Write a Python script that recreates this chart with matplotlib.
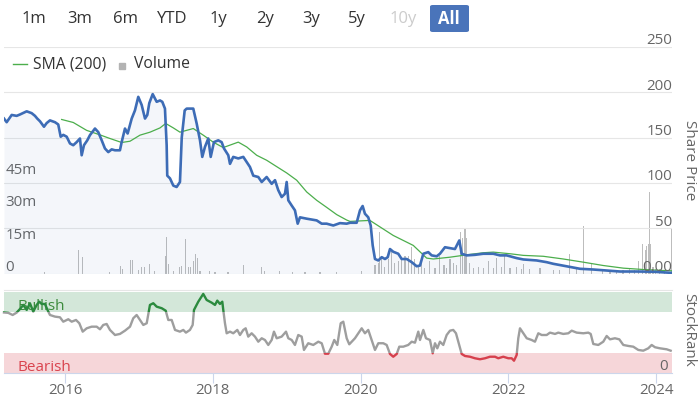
import matplotlib
matplotlib.use('Agg')
import matplotlib.pyplot as plt
from matplotlib.patches import Rectangle, FancyBboxPatch
from matplotlib.lines import Line2D
import matplotlib.transforms as mtransforms

plt.rcParams['font.family'] = ['Open Sans', 'DejaVu Sans']

# ---------------- data (x in decimal years) ----------------
price_points = [
    (2015.175, 171), (2015.211, 167), (2015.279, 175), (2015.346, 174), (2015.391, 175.5),
    (2015.482, 179), (2015.549, 177), (2015.594, 174), (2015.625, 171), (2015.662, 168),
    (2015.716, 162), (2015.752, 166), (2015.797, 169), (2015.865, 167), (2015.909, 164.5),
    (2015.942, 151), (2015.977, 153), (2016.023, 151), (2016.068, 143.5), (2016.112, 141.6),
    (2016.158, 145), (2016.203, 149), (2016.226, 130.5), (2016.257, 141.6), (2016.302, 147),
    (2016.338, 152.7), (2016.406, 160), (2016.451, 156), (2016.497, 147), (2016.541, 138),
    (2016.586, 134), (2016.632, 137), (2016.677, 136), (2016.744, 136), (2016.767, 145),
    (2016.812, 160), (2016.848, 154.5), (2016.903, 171), (2016.947, 180), (2016.992, 195),
    (2017.038, 186), (2017.083, 171), (2017.114, 175), (2017.141, 188), (2017.187, 198),
    (2017.241, 189.5), (2017.286, 191), (2017.317, 189.5), (2017.353, 182), (2017.376, 141.6),
    (2017.384, 108), (2017.421, 105), (2017.466, 97), (2017.511, 95.5), (2017.556, 101),
    (2017.580, 150), (2017.620, 180), (2017.647, 182), (2017.736, 182), (2017.782, 165.6),
    (2017.827, 147), (2017.858, 128.7), (2017.894, 139.7), (2017.939, 149), (2017.972, 128.7),
    (2018.016, 145), (2018.074, 147), (2018.120, 145), (2018.152, 138), (2018.210, 130.5),
    (2018.233, 121), (2018.277, 128.7), (2018.345, 127), (2018.413, 128.7), (2018.459, 123),
    (2018.503, 117.6), (2018.548, 108), (2018.616, 106.5), (2018.662, 101), (2018.729, 106.5),
    (2018.797, 99), (2018.842, 103), (2018.886, 92), (2018.932, 84.4), (2018.977, 88),
    (2019.000, 101), (2019.022, 80.8), (2019.068, 75), (2019.112, 69.7), (2019.149, 55),
    (2019.180, 62), (2019.271, 60.5), (2019.406, 58.6), (2019.474, 55), (2019.541, 55),
    (2019.631, 53), (2019.721, 55.6), (2019.812, 55), (2019.857, 56), (2019.947, 56),
    (2019.992, 69.7), (2020.028, 74.5), (2020.059, 66), (2020.104, 62), (2020.137, 53),
    (2020.164, 31), (2020.195, 16), (2020.240, 14.4), (2020.286, 18), (2020.330, 16),
    (2020.367, 18), (2020.398, 27), (2020.442, 24), (2020.510, 21.8), (2020.556, 16),
    (2020.624, 16), (2020.692, 12.5), (2020.759, 8), (2020.804, 8.8), (2020.849, 21.8),
    (2020.916, 23.6), (2020.962, 20), (2021.030, 19), (2021.074, 21.8), (2021.142, 29),
    (2021.210, 28), (2021.277, 27), (2021.336, 36.5), (2021.368, 21.8), (2021.436, 20),
    (2021.548, 20.6), (2021.660, 21.8), (2021.796, 21.8), (2021.886, 20), (2021.977, 20),
    (2022.112, 17), (2022.202, 15.5), (2022.383, 14.4), (2022.518, 12.5), (2022.608, 10.7),
    (2022.789, 8), (2022.969, 5.2), (2023.149, 4.4), (2023.330, 3.3), (2023.510, 2.2),
    (2023.736, 2.2), (2023.961, 2), (2024.187, 0.8), (2024.214, 0.8),
]

sma_points = [
    (2015.955, 170), (2016.112, 166.7), (2016.293, 158), (2016.474, 153), (2016.609, 149),
    (2016.767, 144.6), (2016.880, 146), (2017.015, 152.7), (2017.151, 156), (2017.286, 160.7),
    (2017.363, 165.6), (2017.466, 160.7), (2017.556, 156), (2017.736, 160), (2017.871, 152.7),
    (2018.006, 145), (2018.141, 139), (2018.345, 145), (2018.459, 139.7), (2018.594, 130.5),
    (2018.729, 125), (2018.864, 118), (2019.000, 111), (2019.135, 103), (2019.271, 90),
    (2019.406, 80.8), (2019.541, 73), (2019.677, 65), (2019.812, 59), (2019.857, 57.5),
    (2020.126, 58.6), (2020.442, 42), (2020.713, 31), (2020.894, 17), (2020.984, 16),
    (2021.210, 18), (2021.436, 20.6), (2021.660, 22.9), (2021.796, 23.6), (2022.022, 21.8),
    (2022.202, 20), (2022.473, 19), (2022.744, 16), (2023.014, 12.5), (2023.285, 8.8),
    (2023.556, 5.9), (2023.826, 4.4), (2024.097, 3.3), (2024.214, 3),
]

# volume in millions
volume_points = [
    (2015.729, 0.5), (2016.180, 10.7), (2016.240, 7.7), (2016.599, 0.6), (2016.754, 3.6),
    (2016.781, 2.2), (2016.889, 6.3), (2016.916, 6.3), (2016.992, 1.7), (2017.038, 2.8),
    (2017.073, 2.8), (2017.141, 4.5), (2017.208, 1.2), (2017.363, 7.9), (2017.376, 16.8),
    (2017.407, 4.5), (2017.466, 1.0), (2017.556, 3.2), (2017.583, 3.6), (2017.637, 16.2),
    (2017.668, 3.2), (2017.701, 3.2), (2017.736, 5.6), (2017.769, 9.1), (2017.790, 7.1),
    (2017.827, 1.0), (2017.962, 1.0), (2018.030, 0.7), (2018.206, 0.8), (2018.413, 4.0),
    (2018.662, 2.8), (2018.706, 1.0), (2018.909, 1.0), (2019.085, 0.7), (2019.248, 0.5),
    (2019.451, 0.8), (2019.677, 0.8), (2020.015, 1.0),
    (2020.195, 4.0), (2020.240, 5.0), (2020.253, 19.3), (2020.286, 7.3), (2020.321, 3.0),
    (2020.375, 6.5), (2020.421, 10.2), (2020.465, 5.0), (2020.510, 5.7), (2020.556, 7.3),
    (2020.601, 8.0), (2020.646, 8.0), (2020.692, 12.2), (2020.736, 6.5), (2020.781, 3.0),
    (2020.827, 5.0), (2020.871, 2.5), (2020.939, 5.7), (2021.007, 2.5), (2021.074, 8.0),
    (2021.129, 4.0), (2021.165, 2.5), (2021.210, 6.5), (2021.254, 5.0), (2021.300, 4.0),
    (2021.354, 19.3), (2021.376, 16.6), (2021.413, 20.9), (2021.436, 16.6), (2021.471, 5.0),
    (2021.525, 2.5), (2021.593, 3.0), (2021.660, 2.5), (2021.728, 5.7), (2021.796, 2.5),
    (2021.842, 7.3), (2021.909, 3.0), (2021.954, 8.0), (2022.022, 2.5), (2022.112, 3.0),
    (2022.180, 2.0), (2022.202, 4.3), (2022.292, 2.0), (2022.428, 2.5), (2022.604, 1.5),
    (2022.698, 1.5), (2022.824, 9.0), (2022.924, 2.0), (2023.014, 21.8), (2023.127, 5.0),
    (2023.280, 2.0), (2023.375, 1.5), (2023.465, 1.5), (2023.551, 1.5), (2023.645, 2.0),
    (2023.713, 1.5), (2023.758, 5.9), (2023.817, 13.6), (2023.849, 10.8), (2023.871, 12.7),
    (2023.893, 13.6), (2023.906, 37.6), (2023.925, 13.9), (2023.957, 3.0), (2023.997, 2.0),
    (2024.051, 2.0), (2024.119, 1.5), (2024.209, 20.4),
]

rank_points = [
    (2015.175, 74.5), (2015.233, 74), (2015.292, 71.4), (2015.346, 74.3), (2015.401, 79.7),
    (2015.436, 83.7), (2015.482, 77.6), (2015.526, 85.8), (2015.571, 75.5), (2015.617, 83.7),
    (2015.652, 87.7), (2015.685, 84.9), (2015.729, 84.9), (2015.760, 78.4), (2015.797, 71.4),
    (2015.865, 69.4), (2015.932, 68.6), (2015.977, 63.2), (2016.045, 66.2), (2016.091, 63.2),
    (2016.149, 65.3), (2016.194, 61.3), (2016.240, 51), (2016.294, 55.1), (2016.361, 57.1),
    (2016.429, 57.1), (2016.474, 53.9), (2016.518, 59.2), (2016.564, 60.4), (2016.609, 53.1),
    (2016.677, 46.9), (2016.744, 48.2), (2016.812, 52.2), (2016.880, 57.1), (2016.924, 67.4),
    (2016.970, 71.4), (2017.015, 65.3), (2017.060, 59.2), (2017.106, 61.3), (2017.150, 83.7),
    (2017.195, 85.8), (2017.241, 81.6), (2017.309, 79.7), (2017.363, 76.7), (2017.398, 65.3),
    (2017.444, 65.3), (2017.489, 53.1), (2017.556, 51), (2017.601, 53.1), (2017.637, 49.8),
    (2017.691, 53.1), (2017.728, 59.2), (2017.746, 77.6), (2017.804, 87.7), (2017.871, 97.2),
    (2017.917, 89.8), (2017.985, 86.5), (2018.030, 83.7), (2018.061, 89), (2018.097, 84.9),
    (2018.129, 87.7), (2018.142, 77.6), (2018.165, 61.3), (2018.188, 49), (2018.233, 51),
    (2018.277, 49), (2018.332, 53.1), (2018.368, 46.9), (2018.413, 53.1), (2018.445, 55.1),
    (2018.480, 44.9), (2018.526, 49), (2018.571, 44.9), (2018.616, 38.7), (2018.662, 42.9),
    (2018.706, 40.8), (2018.751, 34.7), (2018.797, 40.8), (2018.828, 51), (2018.865, 42.9),
    (2018.932, 44.9), (2018.991, 51), (2019.022, 42.9), (2019.068, 40.8), (2019.112, 34.7),
    (2019.157, 46.9), (2019.203, 44.9), (2019.234, 28.6), (2019.292, 36.8), (2019.360, 34.7),
    (2019.428, 38.7), (2019.474, 36.8), (2019.518, 24), (2019.563, 24), (2019.609, 32.6),
    (2019.644, 40.8), (2019.685, 34.7), (2019.731, 61.3), (2019.766, 63.2), (2019.812, 42.9),
    (2019.847, 35.5), (2019.924, 42.9), (2019.969, 49), (2020.015, 55.1), (2020.059, 49),
    (2020.104, 53.1), (2020.150, 40.8), (2020.195, 28.6), (2020.240, 36.8), (2020.307, 36.8),
    (2020.353, 34.7), (2020.398, 23.7), (2020.442, 20.3), (2020.489, 23.7), (2020.524, 32.6),
    (2020.578, 32.6), (2020.645, 34.7), (2020.692, 38.7), (2020.736, 37.5), (2020.781, 51),
    (2020.804, 40.8), (2020.849, 53.1), (2020.885, 42.9), (2020.939, 40.8), (2020.976, 24.5),
    (2021.007, 36.8), (2021.038, 30.6), (2021.074, 38.7), (2021.119, 34.7), (2021.165, 46.9),
    (2021.210, 52.2), (2021.254, 53.1), (2021.291, 49), (2021.322, 38.7), (2021.368, 23.7),
    (2021.413, 21.2), (2021.480, 20.3), (2021.548, 18.4), (2021.616, 17.2), (2021.684, 18.4),
    (2021.751, 20.3), (2021.819, 20.3), (2021.863, 18.4), (2021.931, 20.3), (2021.999, 18.4),
    (2022.045, 18.4), (2022.076, 15.4), (2022.112, 22.4), (2022.134, 42.9), (2022.157, 55.1),
    (2022.202, 49), (2022.248, 42.9), (2022.315, 40.8), (2022.360, 38.7), (2022.405, 49),
    (2022.451, 46.9), (2022.518, 46.9), (2022.563, 49.8), (2022.631, 48.2), (2022.675, 49.8),
    (2022.743, 48.2), (2022.811, 49), (2022.857, 52.2), (2022.924, 49.8), (2023.014, 49),
    (2023.081, 49.8), (2023.114, 48.2), (2023.149, 35.9), (2023.217, 34.7), (2023.284, 38.7),
    (2023.330, 45.7), (2023.375, 41.6), (2023.442, 42.9), (2023.501, 41.6), (2023.555, 34.7),
    (2023.623, 33.5), (2023.690, 32.6), (2023.758, 28.6), (2023.825, 27.7), (2023.893, 30.6),
    (2023.939, 34.7), (2023.984, 31.9), (2024.051, 30.6), (2024.142, 29.4), (2024.196, 27.7),
]

year_ticks = [2016, 2018, 2020, 2022, 2024]
price_ticks = [0, 50, 100, 150, 200, 250]
volume_ticks = [0, 15, 30, 45]
range_buttons = ['1m', '3m', '6m', 'YTD', '1y', '2y', '3y', '5y', '10y', 'All']
legend_labels = ['SMA (200)', 'Volume']
rank_bands = {'Bullish': (75, 100), 'Bearish': (0, 25)}

price_t, price_v = zip(*price_points)
sma_t, sma_v = zip(*sma_points)
vol_t, vol_v = zip(*volume_points)
rank_t, rank_v = zip(*rank_points)

# ---------------- styling ----------------
W, H = 700, 397
X0, X1 = 2015.175, 2024.214
BLUE = '#3d6cb6'
GREEN_SMA = '#4cae4c'
GRID = '#e6e6e6'
LABEL = '#666666'
FS_AX = 10.8

def fx(px):
    return px / W

def fy(py):
    return 1 - py / H

fig = plt.figure(figsize=(7.0, 3.97), dpi=100)

def lifted(trans, dots):
    return mtransforms.offset_copy(trans, fig=fig, x=0, y=dots, units='dots')

# main panel
main_rect = [fx(4), fy(273.5), fx(668), (273.5 - 47) / H]
ax = fig.add_axes(main_rect)
axv = ax.twinx()
ax.set_zorder(axv.get_zorder() + 1)
ax.patch.set_visible(False)
axv.patch.set_facecolor('white')

axv.bar(vol_t, vol_v, width=0.014, color='#bdbdbd', linewidth=0, align='center')
axv.set_ylim(0, 105)
axv.set_xlim(X0, X1)
axv.set_yticks([])
for s in axv.spines.values():
    s.set_visible(False)
vtrans = lifted(mtransforms.blended_transform_factory(axv.transAxes, axv.transData), 2.5)
for v in volume_ticks:
    lab = '0' if v == 0 else f'{v}m'
    axv.text(0.002, v, lab, transform=vtrans, ha='left', va='baseline', fontsize=FS_AX, color=LABEL)

ax.fill_between(price_t, price_v, 0, color=BLUE, alpha=0.055, linewidth=0)
ax.plot(sma_t, sma_v, color=GREEN_SMA, lw=0.9, zorder=3)
ax.plot(price_t, price_v, color=BLUE, lw=1.9, zorder=4, solid_joinstyle='round')
ax.set_xlim(X0, X1)
ax.set_ylim(0, 250)
ptrans = lifted(mtransforms.blended_transform_factory(ax.transAxes, ax.transData), 2.5)
for v in price_ticks:
    ax.axhline(v, color=GRID, lw=0.8, zorder=0)
    lab = '0.00' if v == 0 else f'{v}'
    ax.text(1.0, v, lab, transform=ptrans, ha='right', va='baseline', fontsize=FS_AX,
            color=LABEL, zorder=5)
ax.set_xticks([])
ax.set_yticks([])
for s in ax.spines.values():
    s.set_visible(False)

# legend
fig.add_artist(Line2D([fx(13), fx(27)], [fy(64), fy(64)], color=GREEN_SMA, lw=1.0))
fig.text(fx(33), fy(64.5), legend_labels[0], ha='left', va='center', fontsize=11.3, color='#333333')
fig.add_artist(Line2D([fx(122.5)], [fy(66)], marker='s', markersize=5, color='#b3b3b3', lw=0))
fig.text(fx(134), fy(64.5), legend_labels[1], ha='left', va='center', fontsize=11.3, color='#333333')

fig.text(fx(689), fy(160), 'Share Price', rotation=270, ha='center', va='center',
         fontsize=11, color=LABEL)

# rank panel
axr = fig.add_axes([fx(4), fy(373.3), fx(668), (373.3 - 290) / H])
axr.set_xlim(X0, X1)
axr.set_ylim(0, 102)
(b0, b1) = rank_bands['Bullish']
(r0, r1) = rank_bands['Bearish']
axr.axhspan(b0, b1, color='#d3e7d9', lw=0, zorder=0)
axr.axhspan(r0, r1, color='#f6d6d9', lw=0, zorder=0)
rtrans = mtransforms.blended_transform_factory(axr.transAxes, axr.transData)
axr.text(0.0195, 77.6, 'Bullish', transform=rtrans, ha='left', va='baseline',
         fontsize=11, color='#3d8b3d', zorder=1)
axr.text(0.0195, 2.8, 'Bearish', transform=rtrans, ha='left', va='baseline',
         fontsize=11, color='#d9434e', zorder=1)
axr.text(0.994, 0, '0', transform=lifted(rtrans, 3), ha='right', va='baseline',
         fontsize=FS_AX, color=LABEL, zorder=1)

segments = [('#9e9e9e', r1, b0), ('#2b8a3e', b0, 200), ('#d6404d', -100, r1)]
for color, lo, hi in segments:
    ln, = axr.plot(rank_t, rank_v, color=color, lw=1.7, zorder=3, solid_joinstyle='round')
    clip = Rectangle((X0 - 1, lo), (X1 - X0) + 2, hi - lo, transform=axr.transData)
    ln.set_clip_path(clip)

axr.set_yticks([])
axr.set_xticks(year_ticks)
axr.set_xticklabels([str(y) for y in year_ticks])
axr.tick_params(axis='x', direction='out', length=7, width=0.8, color='#ccd6eb',
                labelsize=FS_AX, labelcolor=LABEL, pad=0)
for k in ['left', 'right']:
    axr.spines[k].set_visible(False)
axr.spines['top'].set_color(GRID)
axr.spines['top'].set_linewidth(0.8)
axr.spines['bottom'].set_color('#ccd6eb')
axr.spines['bottom'].set_linewidth(0.8)

fig.text(fx(689), fy(330), 'StockRank', rotation=270, ha='center', va='center',
         fontsize=11, color=LABEL)

# range selector buttons
button_x = [34, 80, 126, 172, 218, 265, 311, 357, 403, 449]
for lab, bx in zip(range_buttons, button_x):
    if lab == 'All':
        box = FancyBboxPatch((fx(430), fy(32)), fx(39), 27 / H,
                             boxstyle='round,pad=0,rounding_size=0.004',
                             transform=fig.transFigure, facecolor='#4a74ba', edgecolor='none')
        fig.add_artist(box)
        fig.text(fx(bx), fy(19), lab, ha='center', va='center', fontsize=12,
                 color='white', fontweight='bold')
    else:
        col = '#cccccc' if lab == '10y' else '#333333'
        fig.text(fx(bx), fy(19), lab, ha='center', va='center', fontsize=12, color=col)

fig.savefig('out.png', dpi=100)
